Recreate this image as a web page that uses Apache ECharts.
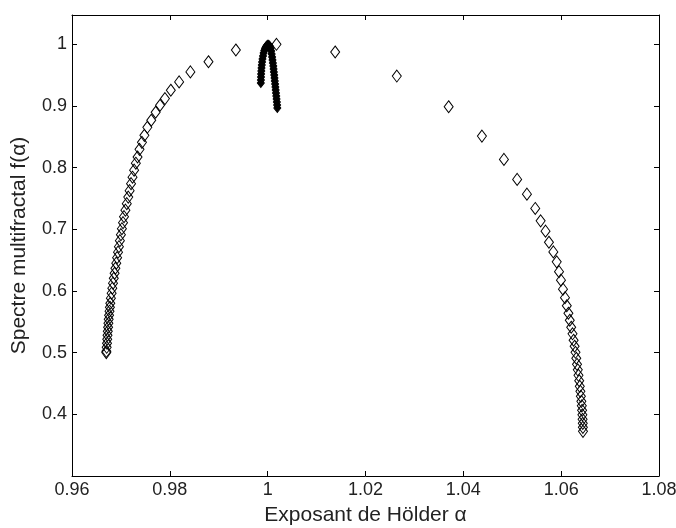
<!DOCTYPE html>
<html>
<head>
<meta charset="utf-8">
<script src="https://cdn.jsdelivr.net/npm/echarts@6/dist/echarts.min.js"></script>
<style>
  html, body { margin: 0; padding: 0; background: #fff; }
  #box01 { width: 676px; height: 528px; }
</style>
</head>
<body>
<div id="box01"></div>
<script>
// axes
var xTicks = [0.96, 0.98, 1, 1.02, 1.04, 1.06, 1.08];
var yTicks = [0.4, 0.5, 0.6, 0.7, 0.8, 0.9, 1];

// branche gauche du spectre (bas -> haut)
var leftAlpha = [0.96701, 0.96703, 0.96709, 0.96716, 0.96720, 0.96726, 0.96732, 0.96738, 0.96744, 0.96750,
  0.96758, 0.96767, 0.96775, 0.96783, 0.96795, 0.96810, 0.96824, 0.96838, 0.96854, 0.96871,
  0.96887, 0.96905, 0.96922, 0.96941, 0.96959, 0.96979, 0.97000, 0.97020, 0.97043, 0.97063,
  0.97092, 0.97120, 0.97150, 0.97178, 0.97207, 0.97237, 0.97270, 0.97305, 0.9734, 0.9738,
  0.9743, 0.9748, 0.9754, 0.9762, 0.9771, 0.9780, 0.9790, 0.9802, 0.9819, 0.9842,
  0.9879, 0.9935, 1.0018];
var leftF = [0.5001, 0.5022, 0.5087, 0.5152, 0.5217, 0.5282, 0.5347, 0.5412, 0.5477, 0.5542,
  0.5607, 0.5672, 0.5736, 0.5801, 0.5883, 0.5964, 0.6045, 0.6126, 0.6207, 0.6288,
  0.6369, 0.6451, 0.6540, 0.6629, 0.6718, 0.6816, 0.6913, 0.7010, 0.7108, 0.7205,
  0.7311, 0.7416, 0.7522, 0.7627, 0.7740, 0.7845, 0.7959, 0.8072, 0.8172, 0.8297,
  0.8410, 0.8524, 0.8654, 0.8768, 0.8898, 0.9012, 0.9120, 0.9255, 0.9390, 0.9552,
  0.9717, 0.9907, 1.0000];

// branche droite du spectre (haut -> bas)
var rightAlpha = [1.0138, 1.0264, 1.0370, 1.0438, 1.0483, 1.0510, 1.0530, 1.0547, 1.0558, 1.0568,
  1.0575, 1.0584, 1.05909, 1.05956, 1.05996, 1.06037, 1.06078, 1.06115, 1.06148, 1.06176,
  1.06205, 1.06232, 1.06254, 1.06275, 1.06293, 1.06309, 1.06324, 1.06340, 1.06354, 1.06369,
  1.06381, 1.06393, 1.06403, 1.06413, 1.06422, 1.06428, 1.06434, 1.06438, 1.06442, 1.06444,
  1.06446];
var rightF = [0.9875, 0.9485, 0.8987, 0.8511, 0.8133, 0.7809, 0.7570, 0.7338, 0.7137, 0.6970,
  0.6790, 0.6634, 0.6472, 0.6313, 0.6175, 0.6029, 0.5891, 0.5761, 0.5639, 0.5525,
  0.5412, 0.5306, 0.5201, 0.5104, 0.5006, 0.4909, 0.4811, 0.4722, 0.4633, 0.4544,
  0.4454, 0.4373, 0.4292, 0.4211, 0.4138, 0.4065, 0.3992, 0.3919, 0.3854, 0.3789,
  0.3724];

// amas noir autour de alpha = 1
var coreAlpha = [0.99860, 0.99862, 0.99864, 0.99866, 0.99870, 0.99874, 0.99880, 0.99886, 0.99894, 0.99905,
  0.99917, 0.99931, 0.99947, 0.99966, 0.99986, 1.00007, 1.00027, 1.00046, 1.00060, 1.00072,
  1.00082, 1.00091, 1.00099, 1.00107, 1.00115, 1.00121, 1.00127, 1.00134, 1.00140, 1.00146,
  1.00152, 1.00158, 1.00164, 1.00170, 1.00176, 1.00182, 1.00188, 1.00193, 1.00197];
var coreF = [0.9372, 0.9420, 0.9469, 0.9518, 0.9566, 0.9615, 0.9664, 0.9712, 0.9761, 0.9810,
  0.9859, 0.9899, 0.9935, 0.9964, 0.9985, 0.9996, 0.9988, 0.9967, 0.9932, 0.9891,
  0.9842, 0.9794, 0.9745, 0.9696, 0.9648, 0.9599, 0.9550, 0.9502, 0.9453, 0.9404,
  0.9355, 0.9307, 0.9258, 0.9209, 0.9161, 0.9112, 0.9063, 0.9014, 0.8966];

function pairs(a, b) {
  var out = [];
  for (var i = 0; i < a.length; i++) out.push([a[i], b[i]]);
  return out;
}

function fmt(v) {
  return String(parseFloat(v.toFixed(2)));
}

var myChart = echarts.init(document.getElementById('box01'));

var lineStyle = { color: '#000', width: 1 };
var tickStyle = { show: true, inside: true, length: 5, lineStyle: { color: '#000', width: 1 } };
var labelFont = { color: '#222', fontSize: 18, fontFamily: 'Liberation Sans, Arial, sans-serif' };
var nameFont = { color: '#222', fontSize: 21, fontFamily: 'Liberation Sans, Arial, sans-serif' };

var option = {
  backgroundColor: '#fff',
  animation: false,
  grid: { left: 72, right: 17, top: 15, bottom: 52, outerBoundsMode: 'none', containLabel: false },
  xAxis: [
    {
      type: 'value', position: 'bottom',
      min: xTicks[0], max: xTicks[xTicks.length - 1], interval: 0.02,
      name: 'Exposant de H\u00f6lder \u03b1', nameLocation: 'middle', nameGap: 29,
      nameTextStyle: nameFont,
      axisLine: { show: true, onZero: false, lineStyle: lineStyle },
      axisTick: tickStyle,
      axisLabel: Object.assign({ margin: 5, formatter: fmt }, labelFont),
      splitLine: { show: false }
    },
    {
      type: 'value', position: 'top',
      min: xTicks[0], max: xTicks[xTicks.length - 1], interval: 0.02,
      axisLine: { show: true, onZero: false, lineStyle: lineStyle },
      axisTick: tickStyle,
      axisLabel: { show: false },
      splitLine: { show: false }
    }
  ],
  yAxis: [
    {
      type: 'value', position: 'left',
      min: 0.3, max: 1.0475, interval: 0.1,
      name: 'Spectre multifractal f(\u03b1)', nameLocation: 'middle', nameGap: 42,
      nameTextStyle: nameFont,
      axisLine: { show: true, onZero: false, lineStyle: lineStyle },
      axisTick: tickStyle,
      axisLabel: Object.assign({
        margin: 5,
        formatter: function (v) {
          var s = fmt(v);
          return yTicks.indexOf(parseFloat(s)) >= 0 && Math.abs(v - parseFloat(s)) < 1e-6 ? s : '';
        }
      }, labelFont),
      splitLine: { show: false }
    },
    {
      type: 'value', position: 'right',
      min: 0.3, max: 1.0475, interval: 0.1,
      axisLine: { show: true, onZero: false, lineStyle: lineStyle },
      axisTick: tickStyle,
      axisLabel: { show: false },
      splitLine: { show: false }
    }
  ],
  series: [
    {
      name: 'gauche', type: 'scatter',
      symbol: 'diamond', symbolSize: [9, 12],
      itemStyle: { color: 'rgba(0,0,0,0)', borderColor: '#000', borderWidth: 1, opacity: 1 },
      data: pairs(leftAlpha, leftF)
    },
    {
      name: 'droite', type: 'scatter',
      symbol: 'diamond', symbolSize: [9, 12],
      itemStyle: { color: 'rgba(0,0,0,0)', borderColor: '#000', borderWidth: 1, opacity: 1 },
      data: pairs(rightAlpha, rightF)
    },
    {
      name: 'centre', type: 'scatter',
      symbol: 'diamond', symbolSize: [7, 9],
      itemStyle: { color: '#000', borderColor: '#000', borderWidth: 1, opacity: 1 },
      data: pairs(coreAlpha, coreF)
    }
  ]
};

myChart.setOption(option);
</script>
</body>
</html>
